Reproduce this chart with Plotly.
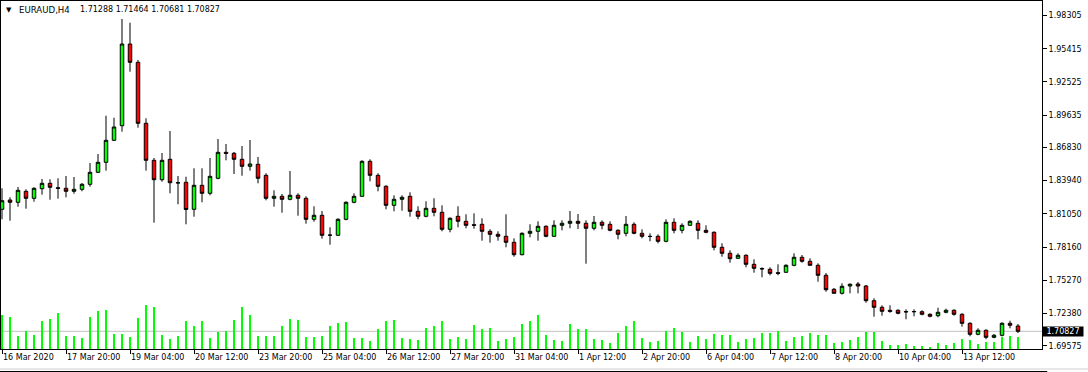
import plotly.graph_objects as go

symbol = "EURAUD,H4"

open_ = [
1.81443, 1.82252, 1.82052, 1.83009, 1.82400, 1.83235, 1.83705, 1.83322, 1.83270, 1.83009,
1.83183, 1.83618, 1.84662, 1.85532, 1.87446, 1.88717, 1.95825, 1.94233, 1.88925, 1.85706,
1.84018, 1.85793, 1.83757, 1.83792, 1.81443, 1.83531, 1.82835, 1.84140, 1.86402, 1.86315,
1.85793, 1.85184, 1.85358, 1.84401, 1.82400, 1.82574, 1.82313, 1.82661, 1.82400, 1.80573,
1.80921, 1.79181, 1.79181, 1.80573, 1.82052, 1.82574, 1.85619, 1.84401, 1.83444, 1.81791,
1.82313, 1.82574, 1.81269, 1.80834, 1.81530, 1.81182, 1.79703, 1.80834, 1.80399, 1.80103,
1.80138, 1.79529, 1.79268, 1.79094, 1.78572, 1.77493, 1.79355, 1.79529, 1.79964, 1.79094,
1.80051, 1.80225, 1.80399, 1.80225, 1.79790, 1.80312, 1.80138, 1.79616, 1.79355, 1.80138,
1.79355, 1.79094, 1.79094, 1.78659, 1.80312, 1.79616, 1.80051, 1.80225, 1.79616, 1.79442,
1.78137, 1.77614, 1.77179, 1.77441, 1.76657, 1.76292, 1.76222, 1.75927, 1.75961, 1.76570,
1.77267, 1.76918, 1.76570, 1.75700, 1.74482, 1.74134, 1.74769, 1.74943, 1.74769, 1.73490,
1.72916, 1.72655, 1.72655, 1.72551, 1.72551, 1.72533, 1.72307, 1.72185, 1.72481, 1.72655,
1.72307, 1.71524, 1.70567, 1.70915, 1.70306, 1.70480, 1.71524, 1.71288]

high = [
1.83270, 1.82487, 1.83383, 1.83183, 1.83357, 1.84079, 1.84053, 1.84140, 1.84340, 1.84253,
1.83731, 1.85471, 1.86254, 1.89587, 1.89413, 1.98000, 1.97678, 1.94433, 1.89361, 1.85906,
1.86341, 1.88256, 1.84340, 1.84279, 1.85010, 1.85010, 1.85906, 1.87559, 1.87124, 1.86428,
1.86950, 1.87472, 1.85993, 1.84575, 1.83096, 1.82774, 1.84775, 1.82835, 1.82574, 1.81704,
1.81295, 1.79877, 1.80660, 1.82139, 1.82835, 1.85706, 1.85793, 1.84575, 1.83531, 1.82661,
1.82661, 1.82922, 1.81704, 1.82139, 1.82400, 1.81791, 1.80747, 1.81704, 1.81008, 1.81095,
1.80660, 1.79703, 1.79529, 1.81008, 1.78920, 1.79442, 1.80138, 1.80399, 1.80051, 1.80486,
1.80486, 1.81295, 1.81034, 1.80486, 1.80860, 1.80486, 1.80399, 1.79703, 1.80860, 1.80312,
1.79703, 1.79355, 1.79268, 1.80573, 1.80660, 1.80225, 1.80486, 1.80486, 1.80051, 1.79529,
1.78485, 1.77876, 1.77614, 1.77528, 1.77092, 1.76396, 1.76396, 1.76657, 1.76657, 1.77614,
1.77467, 1.77179, 1.76744, 1.75900, 1.74595, 1.75004, 1.75004, 1.75117, 1.74856, 1.73699,
1.73090, 1.73090, 1.72742, 1.72742, 1.72742, 1.72655, 1.72394, 1.72881, 1.72794, 1.72742,
1.72394, 1.71611, 1.71089, 1.71002, 1.70593, 1.71611, 1.71750, 1.71464]

low = [
1.80573, 1.80451, 1.81669, 1.81495, 1.82104, 1.82713, 1.82278, 1.82365, 1.82487, 1.82800,
1.83009, 1.83409, 1.84601, 1.84801, 1.87385, 1.88195, 1.93415, 1.88543, 1.84801, 1.80277,
1.83844, 1.82835, 1.81878, 1.80138, 1.80799, 1.82052, 1.82661, 1.84053, 1.85706, 1.84514,
1.84366, 1.84801, 1.83705, 1.82226, 1.81669, 1.81147, 1.82226, 1.80886, 1.80190, 1.80364,
1.78885, 1.78363, 1.79150, 1.80486, 1.81965, 1.82540, 1.83879, 1.83009, 1.81443, 1.81269,
1.81321, 1.80799, 1.80573, 1.80747, 1.80834, 1.79529, 1.79442, 1.79877, 1.79790, 1.79755,
1.78711, 1.78537, 1.78711, 1.78137, 1.77319, 1.77441, 1.79007, 1.78711, 1.79007, 1.79060,
1.79616, 1.79790, 1.79729, 1.76710, 1.79616, 1.79703, 1.79529, 1.78833, 1.79094, 1.79268,
1.78920, 1.78659, 1.78485, 1.78572, 1.79355, 1.79355, 1.80030, 1.78833, 1.79355, 1.77876,
1.77319, 1.76797, 1.77145, 1.76396, 1.75927, 1.75526, 1.75700, 1.75700, 1.75927, 1.76483,
1.76797, 1.76550, 1.75144, 1.74273, 1.74117, 1.74030, 1.74134, 1.74134, 1.73316, 1.72098,
1.72185, 1.72446, 1.72307, 1.71872, 1.72133, 1.72220, 1.72046, 1.72046, 1.72394, 1.72185,
1.71228, 1.70393, 1.70480, 1.70132, 1.70219, 1.70393, 1.71089, 1.70681]

close = [
1.82191, 1.82052, 1.83096, 1.82400, 1.83270, 1.83705, 1.83357, 1.83270, 1.83009, 1.83183,
1.83618, 1.84662, 1.85532, 1.87446, 1.88604, 1.95825, 1.94233, 1.88925, 1.85706, 1.84018,
1.85706, 1.83757, 1.83740, 1.81425, 1.83531, 1.82835, 1.84314, 1.86402, 1.86315, 1.85793,
1.85184, 1.85384, 1.84140, 1.82400, 1.82574, 1.82313, 1.82661, 1.82400, 1.80573, 1.80921,
1.79181, 1.79200, 1.80573, 1.82052, 1.82574, 1.85619, 1.84401, 1.83444, 1.81791, 1.82313,
1.82487, 1.81269, 1.80834, 1.81530, 1.81182, 1.79703, 1.80660, 1.80399, 1.80051, 1.80051,
1.79529, 1.79268, 1.79094, 1.78572, 1.77493, 1.79355, 1.79529, 1.79964, 1.79094, 1.80051,
1.80225, 1.80399, 1.80225, 1.79790, 1.80312, 1.80051, 1.79616, 1.79268, 1.80138, 1.79355,
1.79094, 1.79077, 1.78659, 1.80312, 1.79616, 1.80051, 1.80399, 1.79616, 1.79442, 1.78137,
1.77614, 1.77145, 1.77441, 1.76657, 1.76309, 1.76257, 1.75874, 1.75874, 1.76570, 1.77267,
1.76918, 1.76570, 1.75700, 1.74447, 1.74134, 1.74743, 1.74917, 1.74769, 1.73490, 1.72916,
1.72568, 1.72568, 1.72394, 1.72516, 1.72533, 1.72307, 1.72133, 1.72481, 1.72655, 1.72307,
1.71524, 1.70567, 1.70915, 1.70306, 1.70480, 1.71524, 1.71350, 1.70827]

volume = [
6800, 6400, 2600, 3660, 2800, 5600, 6000, 7200, 2600, 2600,
2200, 6400, 7600, 7800, 3000, 3000, 2400, 6200, 8800, 8400,
2800, 2000, 2600, 5600, 4600, 5600, 2200, 3400, 3660, 5800,
8400, 6800, 2600, 2600, 2600, 4600, 6000, 5800, 2400, 2400,
2600, 4600, 5200, 5460, 2200, 2200, 1600, 4000, 5600, 5800,
2200, 2000, 1800, 4200, 4600, 5600, 2000, 2400, 2000, 4800,
4000, 4200, 1600, 2000, 2400, 5000, 5600, 6800, 2800, 1800,
1600, 5000, 4000, 4000, 2000, 1800, 1200, 3200, 4600, 5600,
2200, 1400, 1600, 3600, 4200, 3400, 1400, 2600, 2000, 3000,
2800, 2800, 1400, 2000, 2200, 3200, 3200, 3600, 1600, 2400,
2600, 3200, 2800, 2800, 1260, 1400, 1800, 2340, 3400, 3400,
1660, 800, 800, 1000, 600, 600, 460, 1200, 800, 1200,
2060, 1800, 1000, 1460, 1460, 2340, 2600, 2340]

bar_index = list(range(len(close)))

x_tick_bars = [0, 8, 16, 24, 32, 40, 48, 56, 64, 72, 80, 88, 96, 104, 112, 120]
x_tick_labels = ["16 Mar 2020", "17 Mar 20:00", "19 Mar 04:00", "20 Mar 12:00",
                 "23 Mar 20:00", "25 Mar 04:00", "26 Mar 12:00", "27 Mar 20:00",
                 "31 Mar 04:00", "1 Apr 12:00", "2 Apr 20:00", "6 Apr 04:00",
                 "7 Apr 12:00", "8 Apr 20:00", "10 Apr 04:00", "13 Apr 12:00"]

y_tick_values = [1.98305, 1.95415, 1.92525, 1.89635, 1.86830, 1.83940,
                 1.81050, 1.78160, 1.75270, 1.72380, 1.69575]

FONT = "DejaVu Sans"
FS = 8

fig = go.Figure()

fig.add_trace(go.Bar(
    x=bar_index, y=volume, yaxis="y2", width=0.125,
    marker=dict(color="#00FF00", line=dict(width=0)),
    hoverinfo="skip",
))

fig.add_trace(go.Candlestick(
    x=bar_index, open=open_, high=high, low=low, close=close,
    increasing=dict(fillcolor="#00FF00", line=dict(color="black", width=1)),
    decreasing=dict(fillcolor="#FF0000", line=dict(color="black", width=1)),
    whiskerwidth=0,
))

last_o, last_h, last_l, last_c = open_[-1], high[-1], low[-1], close[-1]

fig.add_shape(type="line", xref="paper", x0=0, x1=1, yref="y", y0=last_c, y1=last_c,
              line=dict(color="#C0C0C0", width=1), layer="below")

# window bottom edges
fig.add_shape(type="line", xref="paper", x0=-0.002, x1=1.045, yref="paper", y0=-0.0575, y1=-0.0575,
              line=dict(color="#D0D0D0", width=1))
fig.add_shape(type="line", xref="paper", x0=-0.002, x1=1.005, yref="paper", y0=-0.0647, y1=-0.0647,
              line=dict(color="#000000", width=1))

# header: triangle, symbol, OHLC of last bar
fig.add_annotation(
    xref="paper", yref="paper", x=0, y=1, xanchor="left", yanchor="top",
    xshift=3, yshift=-3, showarrow=False, text="\u25BC",
    font=dict(family=FONT, size=7, color="black"),
)
fig.add_annotation(
    xref="paper", yref="paper", x=0, y=1, xanchor="left", yanchor="top",
    xshift=16, yshift=-2, showarrow=False, text=symbol,
    font=dict(family=FONT, size=8.6, color="black"),
)
fig.add_annotation(
    xref="paper", yref="paper", x=0, y=1, xanchor="left", yanchor="top",
    xshift=77, yshift=-2, showarrow=False,
    text=" ".join(f"{v:.5f}" for v in (last_o, last_h, last_l, last_c)),
    font=dict(family=FONT, size=FS, color="black"),
)

fig.add_annotation(
    xref="paper", yref="y", x=1, y=last_c, xanchor="left", yanchor="middle",
    showarrow=False, text=f"{last_c:.5f}", bgcolor="black", borderpad=0,
    width=40, height=9, font=dict(family=FONT, size=FS, color="white"),
)

fig.update_layout(
    width=1088, height=372,
    margin=dict(l=1, r=46, t=1, b=23),
    paper_bgcolor="white", plot_bgcolor="white",
    showlegend=False, boxgap=0.375, bargap=0,
    xaxis=dict(
        range=[-0.125, 130], showgrid=False, zeroline=False,
        showline=True, mirror=True, linecolor="black", linewidth=1,
        ticks="outside", ticklen=4, tickcolor="black", tickwidth=1,
        tickvals=x_tick_bars, ticktext=x_tick_labels,
        ticklabelposition="outside right",
        tickfont=dict(family=FONT, size=FS, color="black"),
        rangeslider=dict(visible=False),
    ),
    yaxis=dict(
        range=[1.69288, 1.99567], side="right", showgrid=False, zeroline=False,
        showline=True, mirror=True, linecolor="black", linewidth=1,
        ticks="outside", ticklen=4, tickcolor="black", tickwidth=1,
        tickvals=y_tick_values, ticktext=[f"{v:.5f}" for v in y_tick_values],
        tickfont=dict(family=FONT, size=FS, color="black"),
    ),
    yaxis2=dict(overlaying="y", range=[0, 69600], visible=False, fixedrange=True),
)

fig.write_html("out.html", config={"displayModeBar": False},
               post_script="document.body.style.margin='0';")
